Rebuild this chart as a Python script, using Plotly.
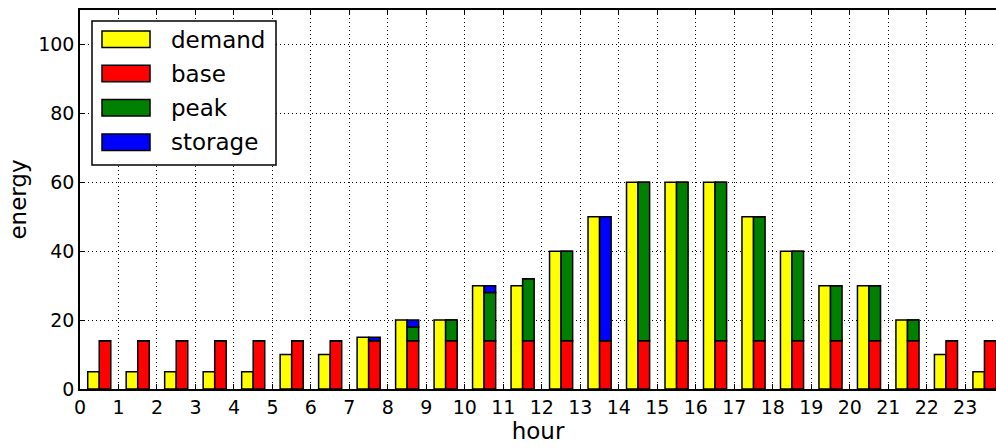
import plotly.graph_objects as go

hours = list(range(24))
demand = [5, 5, 5, 5, 5, 10, 10, 15, 20, 20, 30, 30, 40, 50, 60, 60, 60, 50, 40, 30, 30, 20, 10, 5]
base = [14] * 24
peak = [0, 0, 0, 0, 0, 0, 0, 0, 4, 6, 14, 18, 26, 0, 46, 46, 46, 36, 26, 16, 16, 6, 0, 0]
storage = [0, 0, 0, 0, 0, 0, 0, 1, 2, 0, 2, 0, 0, 36, 0, 0, 0, 0, 0, 0, 0, 0, 0, 0]

series_names = ["demand", "base", "peak", "storage"]
series_colors = ["#ffff00", "#ff0000", "#008000", "#0000ff"]

bar_w = 0.3
x_dem = [h + 0.2 + bar_w / 2 for h in hours]
x_sup = [h + 0.5 + bar_w / 2 for h in hours]

fig = go.Figure()
line = dict(color="black", width=1.5)
fig.add_trace(go.Bar(x=x_dem, y=demand, width=bar_w, name="demand",
                     marker=dict(color=series_colors[0], line=line)))
for name, vals, col in zip(series_names[1:], [base, peak, storage], series_colors[1:]):
    fig.add_trace(go.Bar(x=x_sup, y=vals, width=bar_w, name=name,
                         marker=dict(color=col, line=line)))

FONT = "DejaVu Sans"
fig.update_layout(
    width=996, height=447,
    margin=dict(l=80, r=0, t=10, b=58),
    barmode="relative",
    showlegend=False,
    plot_bgcolor="white", paper_bgcolor="white",
    font=dict(family=FONT, size=19, color="black"),
    xaxis=dict(range=[0, 23.8], tickmode="array", tickvals=hours, ticktext=[str(h) for h in hours],
               showline=True, linecolor="black", linewidth=1.5, mirror="ticks",
               ticks="inside", ticklen=5, tickcolor="black", automargin=False,
               showgrid=True, gridcolor="black", griddash="1px,3px", gridwidth=1,
               zeroline=False, title=dict(text="hour", standoff=2)),
    yaxis=dict(range=[0, 110], tickvals=[0, 20, 40, 60, 80, 100],
               showline=True, linecolor="black", linewidth=1.5, mirror=False,
               ticks="inside", ticklen=5, tickcolor="black", automargin=False,
               showgrid=True, gridcolor="black", griddash="1px,3px", gridwidth=1,
               zeroline=False, title=dict(text="energy", standoff=5)),
)

# legend box drawn in the classic style (wide swatches)
pw, ph = 916.0, 379.0
def px(dx):
    return dx / pw
def py(dy):
    return 1 - dy / ph

fig.add_shape(type="rect", xref="paper", yref="paper",
              x0=px(12), x1=px(196), y0=py(155), y1=py(11),
              line=dict(color="black", width=1.5), fillcolor="white", layer="above")
for i, (name, col) in enumerate(zip(series_names, series_colors)):
    top = 21 + i * 34.3
    fig.add_shape(type="rect", xref="paper", yref="paper",
                  x0=px(22), x1=px(70), y0=py(top + 16.5), y1=py(top),
                  line=dict(color="black", width=1.5), fillcolor=col, layer="above")
    fig.add_annotation(xref="paper", yref="paper", x=px(89), y=py(top + 8.5),
                       text=name, showarrow=False, xanchor="left", yanchor="middle",
                       font=dict(family=FONT, size=23, color="black"))

fig.write_html("out.html", config={"displayModeBar": False},
               post_script="document.body.style.margin='0';document.body.style.overflow='hidden';")
